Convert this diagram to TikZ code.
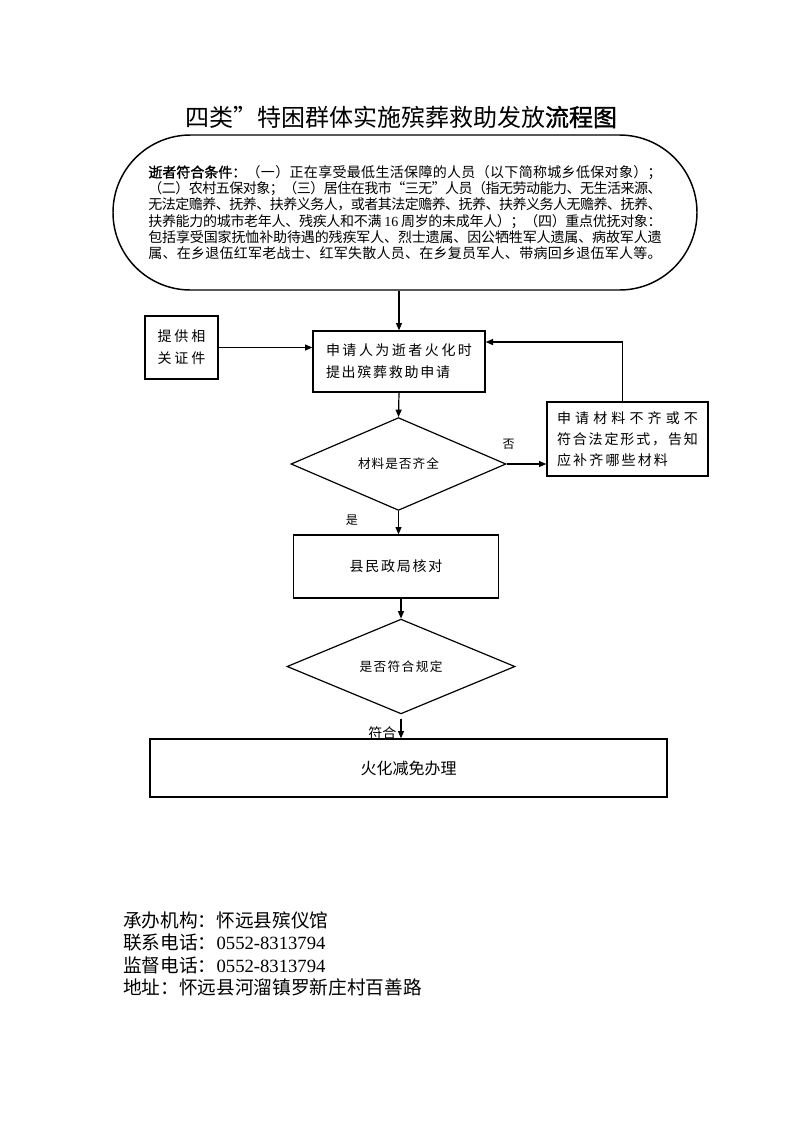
\documentclass[tikz,border=0pt]{standalone}
\usepackage{fontspec}
\setmainfont{Noto Sans CJK SC}
\newfontfamily\lat{Liberation Serif}
\newfontfamily\cjkb[FakeBold=1.5]{Noto Sans CJK SC}
\usetikzlibrary{arrows.meta,shapes.geometric,shapes.misc,positioning}
\ExplSyntaxOn
\cs_new:Npn \fl_spread_item:n #1 { {#1} \skip_horizontal:n { 0pt plus 1fil minus 0.6pt } }
\NewDocumentCommand{\spreadline}{mm}
  { \makebox[#1][s]{ \tl_map_function:nN {#2} \fl_spread_item:n \unskip } }
\ExplSyntaxOff
\tikzstyle{box}=[draw, line width=1pt, inner sep=0pt, font=\fontsize{10.5pt}{16.5pt}\selectfont]
\tikzstyle{dec}=[draw, diamond, line width=0.9pt, inner sep=0pt, font=\fontsize{9.5pt}{11pt}\selectfont]
\tikzstyle{lab}=[inner sep=0pt, font=\fontsize{9pt}{10pt}\selectfont]
\tikzstyle{info}=[anchor=west, inner sep=0pt, font=\fontsize{14pt}{16pt}\selectfont]
\tikzstyle{arr}=[line width=0.9pt, -{Triangle[length=5.5pt,width=4.5pt]}]

\begin{document}
\begin{tikzpicture}[x=0.75pt, y=-0.75pt]
      \path[use as bounding box] (0,0) rectangle (793,1122);
      % title
      \node at (401,117) [font=\fontsize{18pt}{20pt}\selectfont] (title) {四类”特困群体实施殡葬救助发放{\cjkb 流程图}};
      % conditions
      \node at (405,212.5) [draw, rounded rectangle, line width=1.1pt, minimum width=438pt, minimum height=116.25pt,
        inner sep=0pt, align=center, font=\fontsize{10.5pt}{12.15pt}\selectfont] (cond)
        {\spreadline{385pt}{{\cjkb 逝者符合条件：}（一）正在享受最低生活保障的人员（以下简称城乡低保对象）；}\\
         \spreadline{385pt}{（二）农村五保对象；（三）居住在我市“三无”人员（指无劳动能力、无生活来源、}\\
         \spreadline{385pt}{无法定赡养、抚养、扶养义务人，或者其法定赡养、抚养、扶养义务人无赡养、抚养、}\\
         \spreadline{385pt}{扶养能力的城市老年人、残疾人和不满{\lat\ 16\ }周岁的未成年人）；（四）重点优抚对象：}\\
         \spreadline{385pt}{包括享受国家抚恤补助待遇的残疾军人、烈士遗属、因公牺牲军人遗属、病故军人遗}\\
         \spreadline{385pt}{属、在乡退伍红军老战士、红军失散人员、在乡复员军人、带病回乡退伍军人等。}};
      %
      \node at (181.5,347.5) [box, minimum width=54.75pt, minimum height=47.25pt, align=center] (src)
        {\spreadline{36pt}{提供相}\\\spreadline{36pt}{关证件}};
      \node at (399,361.5) [box, minimum width=129pt, minimum height=45.75pt, align=left] (apply)
        {\spreadline{109.5pt}{申请人为逝者火化时}\\\spreadline{93pt}{提出殡葬救助申请}};
      \node at (398.5,464) [dec, minimum width=161.25pt, minimum height=54pt] (check)
        {\spreadline{60.75pt}{材料是否齐全}};
      \node at (627.5,439) [box, minimum width=120.75pt, minimum height=55.5pt, align=left,
        font=\fontsize{10.5pt}{15.75pt}\selectfont] (fix)
        {\spreadline{105.75pt}{申请材料不齐或不}\\\spreadline{105.75pt}{符合法定形式，告知}\\\spreadline{83.25pt}{应补齐哪些材料}};
      \node at (396,566.5) [box, minimum width=154pt, minimum height=47.25pt] (verify)
        {\spreadline{69.75pt}{县民政局核对}};
      \node at (401,666.5) [dec, minimum width=171pt, minimum height=41.25pt] (rule)
        {\spreadline{62.25pt}{是否符合规定}};
      \node at (408.5,768) [box, minimum width=387.75pt, minimum height=43.5pt, font=\fontsize{12pt}{14pt}\selectfont] (done)
        {火化减免办理};
      %
      \draw[arr] (apply.north |- cond.south) -- (apply.north);
      \draw[arr] (src.east) -- (apply.west |- src.east);
      \draw[arr] (apply.south) -- (check.north);
      \draw[arr] (check.east) -- node[lab, pos=0.05, above=10.5pt] {否} (fix.west |- check.east);
      \draw[arr] ([xshift=-4pt]fix.north) |- ([yshift=14.6pt]apply.east);
      \draw[arr] (check.south) -- node[lab, pos=0.4, left=30pt] {是} (check.south |- verify.north);
      \draw[arr] (rule.north |- verify.south) -- (rule.north);
      \draw[arr, shorten <=3pt] (rule.south) -- node[lab, pos=0.8, left=3pt, font=\fontsize{10.5pt}{12pt}\selectfont] {符合} (rule.south |- done.north);
      % contacts
      \node at (123,920) [info] (org) {承办机构：怀远县殡仪馆};
      \node at (123,942.5) [info] (tel) {联系电话：{\lat 0552-8313794}};
      \node at (123,965) [info] (sup) {监督电话：{\lat 0552-8313794}};
      \node at (123,987.5) [info] (addr) {地址：怀远县河溜镇罗新庄村百善路};
\end{tikzpicture}
\end{document}
